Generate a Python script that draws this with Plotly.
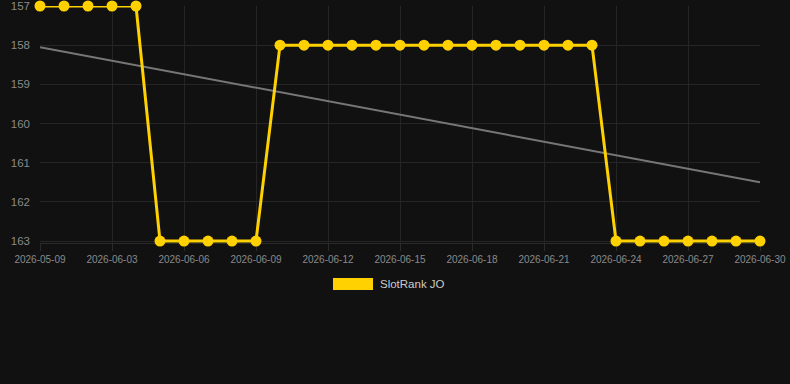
import plotly.graph_objects as go

dates = ["2026-05-09"] + [f"2026-06-{d:02d}" for d in range(1, 31)]
ranks = [157]*5 + [163]*5 + [158]*14 + [163]*7
trend_dates = [dates[0], dates[-1]]
trend_vals = [158.05, 161.5]
y_ticks = [157, 158, 159, 160, 161, 162, 163]
x_tick_idx = list(range(0, 31, 3))

idx = list(range(len(dates)))
pos = {d: i for i, d in enumerate(dates)}

T, B, L, R = 6, 141, 40, 30
PH = 384 - T - B
PW = 790 - L - R

def px(x):
    return (x - L) / PW

def py(y):
    return (384 - B - y) / PH

fig = go.Figure()
fig.add_trace(go.Scatter(
    x=[pos[d] for d in trend_dates], y=trend_vals, mode="lines",
    line=dict(color="#777777", width=2), showlegend=False, hoverinfo="skip",
    cliponaxis=False))
fig.add_trace(go.Scatter(
    x=idx, y=ranks, mode="lines+markers", name="SlotRank JO",
    line=dict(color="#FFD100", width=3),
    marker=dict(color="#FFD100", size=11), showlegend=False, cliponaxis=False))

fig.update_layout(
    width=790, height=384,
    margin=dict(l=L, r=R, t=T, b=B),
    paper_bgcolor="#111111", plot_bgcolor="#111111",
    font=dict(family="Liberation Sans, Arial, sans-serif", color="#8a8a8a"),
    xaxis=dict(range=[0, 30], tickvals=x_tick_idx,
               ticktext=[dates[i] for i in x_tick_idx],
               showgrid=True, gridcolor="#252525", gridwidth=1,
               zeroline=False, showline=True, linecolor="#2a2a2a",
               layer="below traces", automargin=False,
               ticks="outside", ticklen=7, tickcolor="#2a2a2a",
               tickfont=dict(size=10, color="#8a8a8a"), tickangle=0,
               ticklabeloverflow="allow"),
    yaxis=dict(range=[163.05, 157], tickvals=y_ticks,
               showgrid=True, gridcolor="#252525", gridwidth=1,
               zeroline=False, ticks="", ticklabelstandoff=9,
               layer="below traces", ticklabeloverflow="allow",
               automargin=False,
               tickfont=dict(size=11.5, color="#8a8a8a")),
    shapes=[dict(type="rect", xref="paper", yref="paper",
                 x0=px(333), x1=px(373), y0=py(278), y1=py(290),
                 fillcolor="#FFD100", line=dict(width=0))],
    annotations=[dict(text="SlotRank JO", xref="paper", yref="paper",
                      x=px(378), y=py(284),
                      xanchor="left", yanchor="middle", showarrow=False,
                      font=dict(size=11.5, color="#cccccc"))],
)

fig.write_html("out.html")
